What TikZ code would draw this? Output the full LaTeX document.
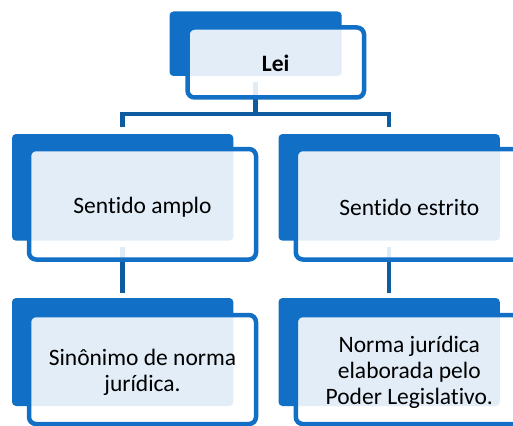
\documentclass[tikz,border=0pt]{standalone}
\usepackage{fontspec}
\setmainfont[Ligatures={NoCommon}]{Carlito}
\definecolor{mblue}{HTML}{1170C6}
\definecolor{cblue}{HTML}{0E5B9F}
\begin{document}
\begin{tikzpicture}[x=1pt,y=-1pt,
  bgbox/.style={fill=mblue, draw=none, rounded corners=4pt, inner sep=0pt, outer sep=0pt},
  frontbox/.style={fill=white, fill opacity=0.88, draw=mblue, draw opacity=1,
    line width=4.5pt, rounded corners=7pt, inner sep=0pt, outer sep=0pt},
  txt/.style={align=center, inner sep=0pt, font=\fontsize{23.5}{26.3}\selectfont, text=black},
  conn/.style={draw=cblue, line width=4.5pt}]
\useasboundingbox (0,0) rectangle (513,425);
% background boxes
\node[bgbox, minimum width=172.2pt, minimum height=64.5pt] (bTop) at (255.6,43.75) {};
\node[bgbox, minimum width=221.3pt, minimum height=106.7pt] (bL) at (122.65,187.35) {};
\node[bgbox, minimum width=221.3pt, minimum height=106.7pt] (bR) at (389.15,187.35) {};
\node[bgbox, minimum width=221.3pt, minimum height=108pt] (bBL) at (122.65,352) {};
\node[bgbox, minimum width=221.3pt, minimum height=108pt] (bBR) at (389.15,352) {};
% connectors
\draw[conn] ([yshift=-6pt]bTop.south) -- ([yshift=20pt]bTop.south |- bL.north);
\draw[conn] ([yshift=7pt]bL.north) |- ([yshift=20pt]bR.north) -- ([yshift=7pt]bR.north);
\draw[conn] ([yshift=-6pt]bL.south) -- ([yshift=5pt]bBL.north);
\draw[conn] ([yshift=-6pt]bR.south) -- ([yshift=5pt]bBR.north);
% front boxes
\node[frontbox, minimum width=176.5pt, minimum height=70pt] (fTop) at (275.75,62.5) {};
\node[frontbox, minimum width=227pt, minimum height=110.5pt] (fL) at (142.5,204.25) {};
\node[frontbox, minimum width=227pt, minimum height=110.5pt] (fR) at (409.3,204.25) {};
\node[frontbox, minimum width=227pt, minimum height=109pt] (fBL) at (142.5,369.5) {};
\node[frontbox, minimum width=227pt, minimum height=109pt] (fBR) at (409.3,369.5) {};
% texts
\node[txt] (tTop) at ([yshift=-1pt]fTop.center) {\textbf{Lei}};
\node[txt] (tL) at ([yshift=-3pt]fL.center) {Sentido amplo};
\node[txt] (tR) at ([yshift=-3pt]fR.center) {Sentido estrito};
\node[txt] (tBL) at ([yshift=-3pt]fBL.center) {Sinônimo de norma\\jurídica.};
\node[txt] (tBR) at ([yshift=-3pt]fBR.center) {Norma jurídica\\elaborada pelo\\Poder Legislativo.};
\end{tikzpicture}
\end{document}
